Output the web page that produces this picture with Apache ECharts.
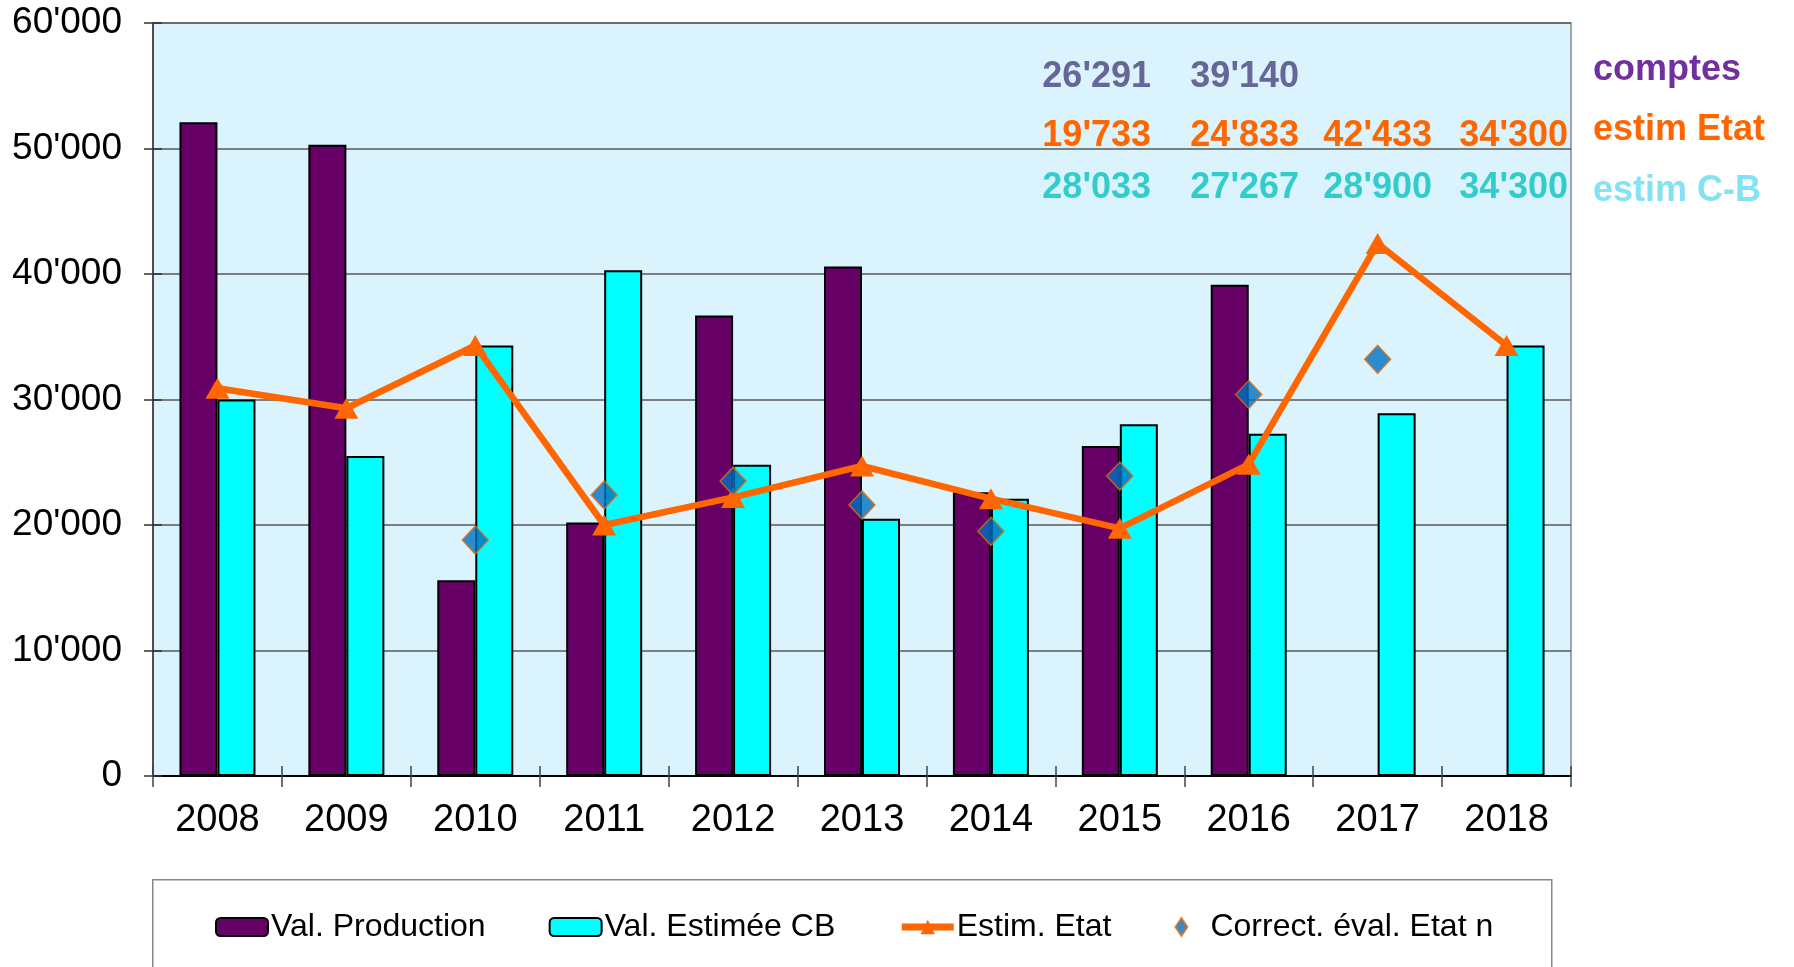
<!DOCTYPE html>
<html>
<head>
<meta charset="utf-8">
<script src="https://cdn.jsdelivr.net/npm/echarts@6/dist/echarts.min.js"></script>
<style>
html,body{margin:0;padding:0;background:#fff;}
#chart{width:1794px;height:967px;}
</style>
</head>
<body>
<div id="chart"></div>
<script>
// ---- data ----
var categories = ['2008','2009','2010','2011','2012','2013','2014','2015','2016','2017','2018'];
var valProduction = [52100, 50300, 15600, 20200, 36700, 40600, 22600, 26291, 39140, null, null];
var valEstimeeCB  = [30000, 25500, 34300, 40300, 24800, 20500, 22100, 28033, 27267, 28900, 34300];
var estimEtat     = [30900, 29300, 34300, 20000, 22200, 24700, 22100, 19733, 24833, 42433, 34300];
var correctEval   = [null, null, 18800, 22400, 23500, 21600, 19500, 23900, 30400, 33200, null];
var seriesNames = ['Val. Production', 'Val. Estimée CB', 'Estim. Etat', 'Correct. éval. Etat n'];
// annotation table (years 2015..2018)
var annotComptes = ["26'291", "39'140", "", ""];
var annotEtat    = ["19'733", "24'833", "42'433", "34'300"];
var annotCB      = ["28'033", "27'267", "28'900", "34'300"];
var rowLabels    = ['comptes', 'estim Etat', 'estim C-B'];

function fmt(v){ return String(v).replace(/\B(?=(\d{3})+(?!\d))/g, "'"); }

var FONT = '"Liberation Sans", Arial, sans-serif';
var chart = echarts.init(document.getElementById('chart'), null, {renderer:'canvas'});

var colX = [1151, 1299, 1432, 1568];
var rowY = [77, 136, 188];
var rowColors = ['#666699', '#FF6600', '#33CCCC'];
var labelColors = ['#7030A0', '#FF6600', '#85E2F2'];
var graphics = [];
graphics.push({type:'rect', left:152, top:879, shape:{width:1399, height:120},
  style:{fill:'#fff', stroke:'#888', lineWidth:1.5}, z:-1});
[annotComptes, annotEtat, annotCB].forEach(function(row, r){
  row.forEach(function(t, c){
    if(!t) return;
    graphics.push({type:'text', x:colX[c], y:rowY[r],
      style:{text:t, fill:rowColors[r], font:'bold 36px '+FONT, textAlign:'right', textVerticalAlign:'middle'}, z:10});
  });
});
rowLabels.forEach(function(t, r){
  graphics.push({type:'text', x:1593, y:[70,130,191][r],
    style:{text:t, fill:labelColors[r], font:'bold 36px '+FONT, textAlign:'left', textVerticalAlign:'middle'}, z:10});
});

var option = {
  backgroundColor:'#fff',
  animation:false,
  graphic: graphics,
  grid:{left:153, right:223, top:23, bottom:191, show:true, backgroundColor:'#DBF3FC', borderColor:'#888', borderWidth:1.5},
  legend:{
    left:215, top:911, padding:0, itemWidth:52, itemHeight:18, itemGap:63,
    textStyle:{fontFamily:FONT, fontSize:32, color:'#000', padding:[0,0,0,-2]},
    data:[
      {name:seriesNames[0]},
      {name:seriesNames[1]},
      {name:seriesNames[2], lineStyle:{width:7, color:'#FF6600'}},
      {name:seriesNames[3], icon:'path://M0,-12L8,0L0,12L-8,0Z'}
    ]
  },
  xAxis:[{
    type:'category', data:categories,
    axisLine:{lineStyle:{color:'#000', width:2}},
    axisTick:{show:true, length:11, lineStyle:{color:'#444', width:1.5}},
    axisLabel:{fontFamily:FONT, fontSize:38, color:'#000', margin:26},
    splitLine:{show:false}
  },{
    type:'category', data:categories, position:'bottom',
    axisLine:{show:false},
    axisTick:{show:true, inside:true, length:10, lineStyle:{color:'#444', width:1.5}},
    axisLabel:{show:false}
  }],
  yAxis:[{
    type:'value', min:0, max:60000, interval:10000,
    axisLine:{show:true, lineStyle:{color:'#333', width:1.5}},
    axisTick:{show:true, length:9, lineStyle:{color:'#333', width:1.5}},
    axisLabel:{fontFamily:FONT, fontSize:37, color:'#000', margin:31, formatter:function(v){return fmt(v);}},
    splitLine:{show:true, lineStyle:{color:'#5a5a5a', width:1.5}}
  },{
    type:'value', min:0, max:60000, interval:10000, position:'left',
    axisLine:{show:false},
    axisTick:{show:true, inside:true, length:9, lineStyle:{color:'#333', width:1.5}},
    axisLabel:{show:false}, splitLine:{show:false}
  }],
  series:[
    {name:seriesNames[0], type:'bar', data:valProduction, barWidth:38, barGap:'0%',
     itemStyle:{color:'#660066', borderColor:'#000', borderWidth:2}, z:2},
    {name:seriesNames[1], type:'bar', data:valEstimeeCB, barWidth:38, barGap:'0%',
     itemStyle:{color:'#00FFFF', borderColor:'#000', borderWidth:2}, z:2},
    {name:seriesNames[2], type:'line', data:estimEtat, symbol:'triangle', symbolSize:[24,21],
     lineStyle:{color:'#FF6600', width:6.5}, itemStyle:{color:'#FF6600'}, z:5},
    {name:seriesNames[3], type:'scatter', data:correctEval, symbol:'diamond', symbolSize:[26,28],
     itemStyle:{color:'#0070C0', borderColor:'#E46C0A', borderWidth:1.5}, z:6}
  ]
};
chart.setOption(option);
</script>
</body>
</html>
